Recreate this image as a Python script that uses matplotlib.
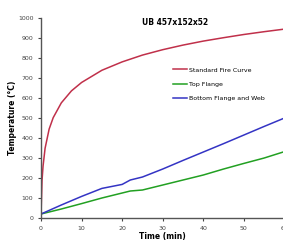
import matplotlib.pyplot as plt

# time (min)
t_fire = [0, 0.25, 0.5, 1, 2, 3, 5, 7.5, 10, 15, 20, 25, 30, 35, 40, 45, 50, 55, 60]
fire = [20, 190, 260, 349, 445, 502, 576, 636, 678, 739, 781, 815, 842, 865, 885, 902, 918, 932, 945]

t_steel = [0, 5, 10, 15, 20, 22, 25, 30, 35, 40, 45, 50, 55, 60]
top_flange = [20, 45, 72, 100, 125, 135, 140, 165, 190, 215, 245, 273, 300, 332]
bottom_flange = [20, 65, 108, 148, 168, 190, 205, 245, 288, 330, 372, 415, 458, 500]

fig = plt.figure(figsize=(2.83, 2.48), dpi=100)
ax = fig.add_axes([0.145, 0.121, 0.86, 0.806])

ax.plot(t_fire, fire, color='#C0304A', lw=1.1, label='Standard Fire Curve')
ax.plot(t_steel, top_flange, color='#22A022', lw=1.1, label='Top Flange')
ax.plot(t_steel, bottom_flange, color='#3434C4', lw=1.1, label='Bottom Flange and Web')

ax.set_xlim(0, 60)
ax.set_ylim(0, 1000)
ax.set_xticks(range(0, 70, 10))
ax.set_yticks(range(0, 1100, 100))
ax.tick_params(labelsize=4.5, colors='#444444', length=2, width=0.8)
for s in ['top', 'right']:
    ax.spines[s].set_visible(False)
for s in ['left', 'bottom']:
    ax.spines[s].set_color('#555555')
    ax.spines[s].set_linewidth(1.0)

ax.set_xlabel('Time (min)', fontsize=5.5, fontweight='bold', labelpad=1)
ax.set_ylabel('Temperature (°C)', fontsize=5.5, fontweight='bold', labelpad=1)
ax.text(0.55, 1.0, 'UB 457x152x52', transform=ax.transAxes, fontsize=5.5,
        fontweight='bold', ha='center', va='top')

ax.legend(loc='upper left', bbox_to_anchor=(0.53, 0.77), fontsize=4.5, frameon=False,
          handlelength=2.2, handletextpad=0.3, labelspacing=1.45, borderpad=0)

fig.savefig('out.png', dpi=100)
